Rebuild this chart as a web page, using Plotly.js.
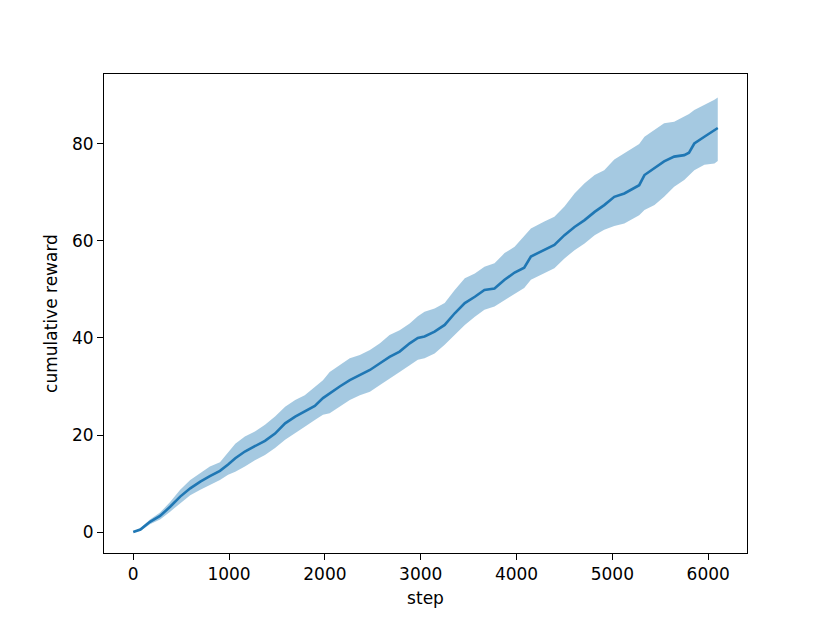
<!DOCTYPE html>
<html>
<head>
<meta charset="utf-8">
<script src="https://cdn.plot.ly/plotly-3.0.1.min.js"></script>
<style>html,body{margin:0;padding:0;background:#fff;}#chart{width:830px;height:623px;}</style>
</head>
<body>
<div id="chart"></div>
<script>
const steps = [0,75,175,280,385,490,595,700,800,905,990,1065,1165,1270,1375,1480,1585,1690,1790,1895,1980,2050,2155,2260,2365,2470,2575,2675,2780,2885,2970,3040,3145,3250,3355,3460,3565,3665,3770,3875,3980,4080,4150,4290,4395,4500,4605,4710,4815,4915,5020,5125,5230,5280,5335,5440,5540,5645,5750,5800,5855,5960,6065,6100];
const meanReward = [0,0.5,2.1,3.3,5.2,7.3,9.0,10.4,11.5,12.6,13.9,15.2,16.6,17.7,18.8,20.3,22.4,23.8,24.9,26.0,27.6,28.6,30.0,31.3,32.4,33.4,34.8,36.1,37.2,38.9,40.0,40.3,41.3,42.7,45.1,47.2,48.5,49.9,50.2,52.0,53.5,54.5,56.8,58.1,59.2,61.2,62.9,64.3,66.0,67.4,69.1,69.8,70.9,71.5,73.6,75.0,76.4,77.4,77.7,78.2,80.1,81.5,82.9,83.3];
const upperReward = [0,0.8,2.6,4.0,6.2,8.7,10.7,12.2,13.5,14.4,16.4,18.2,19.7,20.7,22.1,23.8,25.8,27.2,28.2,30.0,31.3,33.0,34.4,35.8,36.5,37.5,38.9,40.6,41.6,43.0,44.5,45.4,46.1,47.2,49.9,52.3,53.3,54.7,55.4,57.5,58.8,61.0,62.6,64.0,65.0,67.1,69.8,71.9,73.6,74.6,76.8,78.1,79.4,80.0,81.5,82.9,84.3,84.6,85.6,86.2,87.0,88.0,89.1,89.6];
const lowerReward = [0,0.2,1.6,2.6,4.2,6.0,7.6,8.7,9.7,10.7,11.8,12.4,13.5,14.8,15.9,17.3,19.0,20.3,21.7,23.1,24.2,24.5,25.8,27.2,28.2,28.9,30.3,31.7,33.0,34.4,35.5,35.8,36.8,38.6,40.6,42.7,44.4,45.8,46.5,47.8,49.0,50.3,52.0,53.3,54.4,56.4,58.1,59.5,61.2,62.3,63.1,63.6,64.7,65.3,66.4,67.4,69.1,71.2,72.6,73.5,74.6,75.7,76.0,76.5];
const xTicks = [0,1000,2000,3000,4000,5000,6000];
const yTicks = [0,20,40,60,80];

const traces = [
  {x: steps, y: lowerReward, type: 'scatter', mode: 'lines', line: {width: 0, color: 'rgba(31,119,180,0)'}, hoverinfo: 'skip', showlegend: false},
  {x: steps, y: upperReward, type: 'scatter', mode: 'lines', fill: 'tonexty', fillcolor: 'rgba(31,119,180,0.4)', line: {width: 0, color: 'rgba(31,119,180,0)'}, hoverinfo: 'skip', showlegend: false},
  {x: steps, y: meanReward, type: 'scatter', mode: 'lines', line: {width: 2.6, color: '#1f77b4'}, showlegend: false}
];

const axisCommon = {
  showline: true, mirror: true, linecolor: '#000', linewidth: 1,
  ticks: 'outside', ticklen: 6, tickwidth: 1, tickcolor: '#000',
  showgrid: false, zeroline: false,
  tickfont: {family: 'DejaVu Sans', size: 17, color: '#000'}
};

const layout = {
  width: 830, height: 623,
  margin: {l: 104, r: 83, t: 74, b: 70},
  paper_bgcolor: '#fff', plot_bgcolor: '#fff',
  font: {family: 'DejaVu Sans', size: 17, color: '#000'},
  showlegend: false,
  xaxis: Object.assign({}, axisCommon, {
    range: [-305, 6405], tickvals: xTicks, ticktext: xTicks.map(String),
    title: {text: 'step', font: {family: 'DejaVu Sans', size: 17, color: '#000'}, standoff: 8}
  }),
  yaxis: Object.assign({}, axisCommon, {
    range: [-4.33, 94.43], tickvals: yTicks, ticktext: yTicks.map(String),
    title: {text: 'cumulative reward', font: {family: 'DejaVu Sans', size: 17, color: '#000'}, standoff: 10}
  })
};

Plotly.newPlot('chart', traces, layout, {displayModeBar: false, staticPlot: true});
</script>
</body>
</html>
